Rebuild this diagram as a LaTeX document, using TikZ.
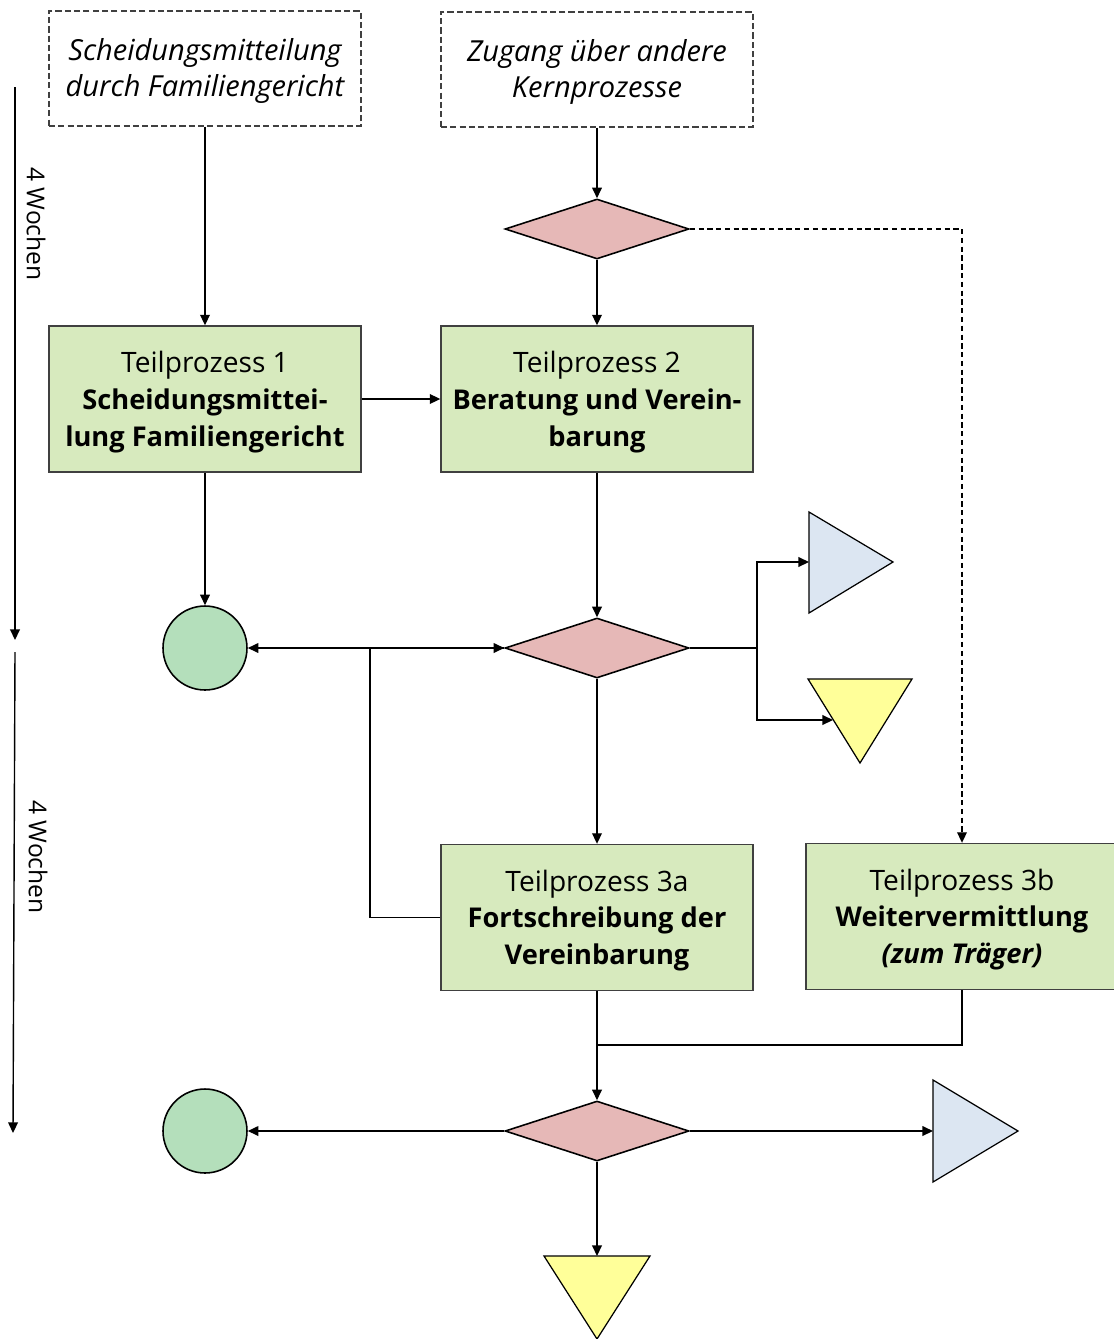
\documentclass[tikz,border=0pt]{standalone}
\usepackage{fontspec}
\setmainfont{Open Sans}
\usetikzlibrary{arrows.meta,shapes.geometric}
\definecolor{boxgreen}{RGB}{215,234,190}
\definecolor{decpink}{RGB}{230,184,183}
\definecolor{endgreen}{RGB}{180,223,187}
\definecolor{outblue}{RGB}{220,230,242}
\definecolor{outyellow}{RGB}{255,255,153}
\definecolor{edge}{RGB}{64,64,64}
\newcommand{\boxtitle}[1]{{\fontsize{15.5}{21}\selectfont\bfseries #1}}

\begin{document}
\begin{tikzpicture}[x=0.02cm,y=-0.02cm,
  font=\fontsize{16}{21}\selectfont,
  conn/.style={line width=0.8pt, -{Triangle[length=6pt,width=5.5pt]}},
  plain/.style={line width=0.8pt},
  srcbox/.style={draw=edge, dash pattern=on 3.5pt off 1.8pt, line width=0.8pt,
    minimum width=6.24cm, minimum height=2.3cm, inner sep=0},
  srctext/.style={align=center, inner sep=0, font=\fontsize{16.5}{21}\selectfont\itshape},
  procbox/.style={draw=edge, fill=boxgreen, line width=0.8pt,
    minimum width=6.24cm, minimum height=2.92cm, inner sep=0},
  proctext/.style={align=center, inner sep=0},
  decision/.style={diamond, draw=black, fill=decpink, line width=0.9pt,
    minimum width=3.68cm, minimum height=1.2cm, inner sep=0},
  endpoint/.style={circle, draw=black, fill=endgreen, line width=0.9pt,
    minimum size=1.68cm, inner sep=0},
  outtri/.style={draw=black, line width=0.7pt, line join=miter},
  timelabel/.style={rotate=-90, font=\fontsize{14}{18}\selectfont},
]
\useasboundingbox (0,0) rectangle (1113,1339);

% entry points
\node[srcbox] (srcA) at (205,68.5) {};
\node[srctext] (srcAtext) at (205,71) {Scheidungsmitteilung\\durch Familiengericht};
\node[srcbox] (srcB) at (597,69.5) {};
\node[srctext] (srcBtext) at (597,72) {Zugang über andere\\Kernprozesse};

% decisions
\node[decision] (d1) at (597,229) {};
\node[decision] (d2) at (597,648) {};
\node[decision] (d3) at (597,1131) {};

% sub-processes
\node[procbox] (tp1) at (205,399) {};
\node[proctext] (tp1text) at (205,402) {Teilprozess 1\\\boxtitle{Scheidungsmittei-}\\\boxtitle{lung Familiengericht}};
\node[procbox] (tp2) at (597,399) {};
\node[proctext] (tp2text) at (597,402) {Teilprozess 2\\\boxtitle{Beratung und Verein-}\\\boxtitle{barung}};
\node[procbox] (tp3a) at (597,917.5) {};
\node[proctext] (tp3atext) at (597,920.5) {Teilprozess 3a\\\boxtitle{Fortschreibung der}\\\boxtitle{Vereinbarung}};
\node[procbox] (tp3b) at (962,916.5) {};
\node[proctext] (tp3btext) at (962,919.5) {Teilprozess 3b\\\boxtitle{Weitervermittlung}\\\boxtitle{\itshape (zum Träger)}};

% end events
\node[endpoint] (c1) at (205,648) {};
\node[endpoint] (c2) at (205,1131) {};

% outgoing connectors (triangles)
\draw[outtri, fill=outblue] (809,512) -- (893,562) -- (809,613) -- cycle;
\coordinate (t1in) at (809,562);
\draw[outtri, fill=outyellow] (808,679) -- (912,679) -- (860,763) -- cycle;
\coordinate (y1in) at (833,720);
\draw[outtri, fill=outblue] (933,1080) -- (1018,1131) -- (933,1182) -- cycle;
\coordinate (t2in) at (933,1131);
\draw[outtri, fill=outyellow] (544,1256) -- (650,1256) -- (597,1339) -- cycle;
\coordinate (y2in) at (597,1256);

% junction points
\coordinate (j1) at (370,648);
\coordinate (j2) at (757,648);
\coordinate (j3) at (597,1045);

% flow
\draw[conn] (srcA) -- (tp1);
\draw[conn] (srcB) -- (d1);
\draw[conn] (d1) -- (tp2);
\draw[conn] (tp1) -- (tp2);
\draw[conn] (tp1) -- (c1);
\draw[conn] (tp2) -- (d2);
\draw[conn] (d2.west) -- (c1);
\draw[conn] (tp3a.west) -| (j1) -- (d2.west);
\draw[plain] (d2.east) -- (j2);
\draw[conn] (j2) |- (t1in);
\draw[conn] (j2) |- (y1in);
\draw[conn] (d2) -- (tp3a);
\draw[conn, dash pattern=on 3pt off 2pt] (d1.east) -| (tp3b.north);
\draw[conn] (tp3a) -- (d3);
\draw[plain] (tp3b.south) |- (j3);
\draw[conn] (d3.west) -- (c2);
\draw[conn] (d3.east) -- (t2in);
\draw[conn] (d3) -- (y2in);

% time scale
\coordinate (w1s) at (15,87);
\coordinate (w1e) at (15,640);
\coordinate (w2s) at (15,652);
\coordinate (w2e) at (13,1133);
\draw[conn] (w1s) -- (w1e);
\draw[conn] (w2s) -- (w2e);
\node[timelabel] (lw1) at (36,224) {4 Wochen};
\node[timelabel] (lw2) at (38,857) {4 Wochen};
\end{tikzpicture}
\end{document}
